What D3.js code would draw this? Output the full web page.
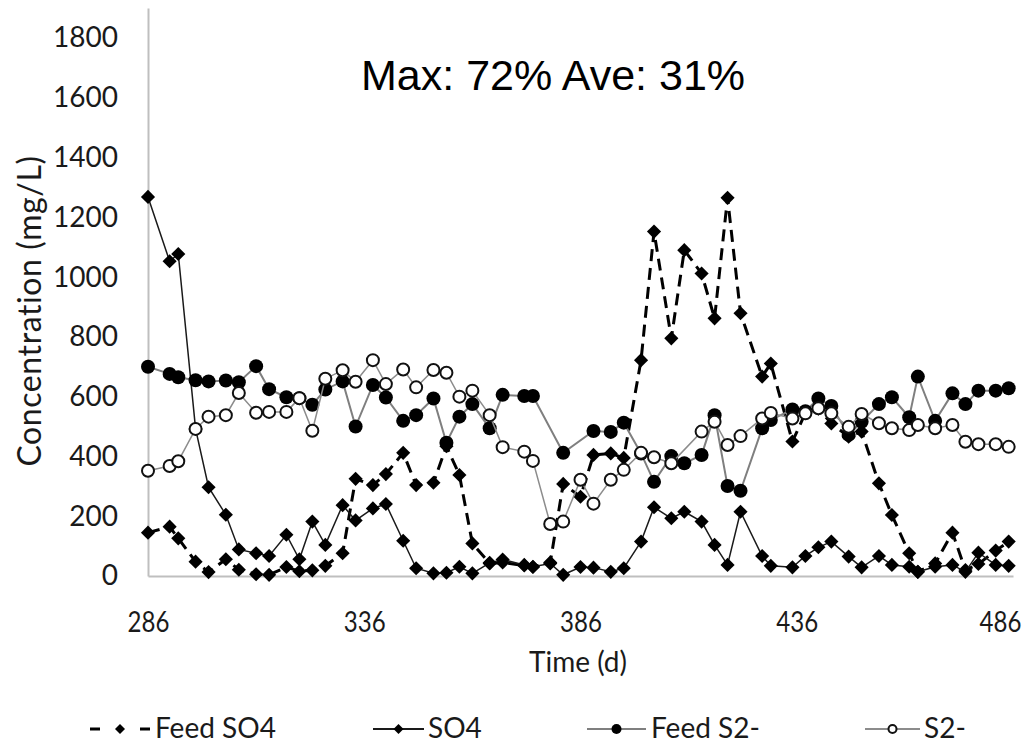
<!DOCTYPE html>
<html lang="en">
<head>
  <meta charset="UTF-8">
  <title>Concentration over time</title>
  <style>
    body { margin: 0; background: #fff; }
    svg { display: block; }
    .tick text, .legend text, .axis-title { font-family: Lato, "Noto Sans", sans-serif; fill: #1a1a1a; }
    .title { font-family: "Liberation Sans", Arial, sans-serif; fill: #000; }
  </style>
</head>
<body>
  <div id="chart"></div>
  <script src="https://cdnjs.cloudflare.com/ajax/libs/d3/7.8.5/d3.min.js"></script>
  <script>
    'use strict';

    // sampling days (d)
    const days = [286, 291, 293, 297, 300, 304, 307, 311, 314, 318, 321, 324, 327, 331, 334,
      338, 341, 345, 348, 352, 355, 358, 361, 365, 368, 373, 375, 379, 382, 386,
      389, 393, 396, 400, 403, 407, 410, 414, 417, 420, 423, 428, 430, 435, 438,
      441, 444, 448, 451, 455, 458, 462, 464, 468, 472, 475, 478, 482, 485];

    // concentrations (mg/L), null = no marker visible
    const feedSO4 = [145, 165, 126, 48, 13, 56, 21, 6, 4, 30, 16, 19, 34, 76, 325,
      304, 341, 412, 304, 312, 434, 338, 109, 42, 45, 35, 30, 45, 308, 265,
      405, 410, 395, 722, 1152, 795, 1090, 1012, 862, 1265, 879, 667, 711, 450, 545,
      560, 510, 466, 483, 310, 204, 76, 14, 42, 145, 20, 40, 85, 115];
    const so4 = [1268, 1053, 1077, 492, 297, 205, 89, 76, 67, 138, 56, 182, 104, 237, 186,
      226, 241, 118, 26, 9, 11, 31, 9, 44, 55, 37, 31, 42, 4, 30,
      28, 14, 26, 115, 230, 193, 215, 182, 104, 37, 215, 67, 34, 29, 67,
      96, 115, 65, 29, 67, 37, 31, 14, 31, 37, 14, 78, 37, 34];
    const feedS2 = [700, 676, 665, 655, 651, 654, 648, 702, 625, 598, 595, 573, 624, 651, 500,
      639, 597, 519, 538, 594, 446, 533, 575, 494, 606, 602, 602, null, 412, null,
      485, 482, 513, 410, 315, 401, 377, 405, 538, 301, 285, 494, 522, 557, 551,
      594, 569, 472, 516, 575, 598, 531, 667, 519, 611, 575, 620, 620, 628];
    const s2 = [352, 368, 384, 492, 533, 538, 612, 546, 549, 549, 595, 486, 660, 688, 650,
      722, 642, 691, 631, 689, 680, 600, 620, 538, 431, 416, 385, 174, 182, 322,
      242, 322, 355, 412, 397, 377, null, 483, 516, 438, 468, 527, 545, 527, 544,
      561, 544, 499, 542, 511, 494, 488, 505, 494, 505, 449, 441, 441, 432];

    const xTicks = [286, 336, 386, 436, 486];
    const yTicks = [0, 200, 400, 600, 800, 1000, 1200, 1400, 1600, 1800];
    const seriesNames = ['Feed SO4', 'SO4', 'Feed S2-', 'S2-'];
    const titleText = 'Max: 72% Ave: 31%';

    const W = 1024, H = 745;
    const svg = d3.select('#chart').append('svg').attr('width', W).attr('height', H);

    const x = d3.scaleLinear().domain([286, 486]).range([148, 1013]);
    const y = d3.scaleLinear().domain([0, 1900]).range([576, 8]);

    // axes
    const yAxis = svg.append('g').attr('transform', 'translate(148,0)')
      .call(d3.axisLeft(y).tickValues(yTicks).tickSize(0).tickPadding(30).tickFormat(d3.format('d')));
    const xAxis = svg.append('g').attr('transform', 'translate(0,576)')
      .call(d3.axisBottom(x).tickValues(xTicks).tickSize(0).tickPadding(36).tickFormat(d3.format('d')));
    [yAxis, xAxis].forEach(g => {
      g.select('.domain').attr('stroke', '#bfbfbf').attr('stroke-width', 2);
      g.selectAll('.tick text').attr('font-size', 28);
    });
    // narrower digits, like the original's font; last label kept inside the frame
    xAxis.selectAll('.tick text').attr('transform', 'scale(0.86,1)')
      .filter(d => d === xTicks[xTicks.length - 1])
      .attr('text-anchor', 'end').attr('x', (W - 3 - x(xTicks[xTicks.length - 1])) / 0.86);

    svg.append('text').attr('class', 'axis-title')
      .attr('transform', 'translate(41,311) rotate(-90)')
      .attr('text-anchor', 'middle').attr('font-size', 32).attr('letter-spacing', 0.6)
      .text('Concentration (mg/L)');
    svg.append('text').attr('class', 'axis-title')
      .attr('x', 578).attr('y', 672).attr('text-anchor', 'middle').attr('font-size', 28)
      .text('Time (d)');

    svg.append('text').attr('class', 'title')
      .attr('x', 361).attr('y', 90).attr('font-size', 43)
      .text(titleText);

    // series styles
    const diamond = d3.symbol().type(d3.symbolSquare).size(100)();
    const diamondSmall = d3.symbol().type(d3.symbolSquare).size(50)();
    const styles = [
      { values: feedSO4, stroke: '#000', width: 3, dash: '12,7', marker: 'diamond' },
      { values: so4, stroke: '#1a1a1a', width: 1.5, dash: null, marker: 'diamond' },
      { values: feedS2, stroke: '#7f7f7f', width: 2, dash: null, marker: 'dot' },
      { values: s2, stroke: '#8c8c8c', width: 1.5, dash: null, marker: 'ring' }
    ];

    const line = d3.line().x(d => x(d[0])).y(d => y(d[1]));

    function drawMarkers(g, pts, type, small) {
      if (type === 'diamond') {
        g.selectAll('path.m').data(pts).join('path').attr('class', 'm')
          .attr('d', small ? diamondSmall : diamond)
          .attr('transform', d => `translate(${d[0]},${d[1]}) rotate(45)`)
          .attr('fill', '#000');
      } else if (type === 'dot') {
        g.selectAll('circle').data(pts).join('circle')
          .attr('cx', d => d[0]).attr('cy', d => d[1]).attr('r', small ? 5 : 7)
          .attr('fill', '#000');
      } else {
        g.selectAll('circle').data(pts).join('circle')
          .attr('cx', d => d[0]).attr('cy', d => d[1]).attr('r', small ? 4 : 6)
          .attr('fill', '#fff').attr('stroke', '#111').attr('stroke-width', 2);
      }
    }

    styles.forEach(s => {
      const pts = days.map((d, i) => [d, s.values[i]]).filter(p => p[1] !== null);
      const g = svg.append('g');
      g.append('path').datum(pts).attr('d', line)
        .attr('fill', 'none').attr('stroke', s.stroke).attr('stroke-width', s.width)
        .attr('stroke-dasharray', s.dash);
      drawMarkers(g, pts.map(p => [x(p[0]), y(p[1])]), s.marker, false);
    });

    // legend
    const legendItems = [
      { x0: 90, x1: 150, tx: 155 },
      { x0: 373, x1: 424, tx: 428 },
      { x0: 587, x1: 646, tx: 651 },
      { x0: 865, x1: 920, tx: 924 }
    ];
    const legendY = 729;
    const legend = svg.append('g').attr('class', 'legend');
    legendItems.forEach((it, i) => {
      const s = styles[i];
      const g = legend.append('g');
      g.append('line').attr('x1', it.x0).attr('x2', it.x1).attr('y1', legendY).attr('y2', legendY)
        .attr('stroke', s.stroke).attr('stroke-width', s.dash ? 3 : 2)
        .attr('stroke-dasharray', s.dash ? '10,40' : null);
      drawMarkers(g, [[(it.x0 + it.x1) / 2, legendY]], s.marker, true);
      g.append('text').attr('x', it.tx).attr('y', legendY + 9).attr('font-size', 28)
        .text(seriesNames[i]);
    });
  </script>
</body>
</html>
